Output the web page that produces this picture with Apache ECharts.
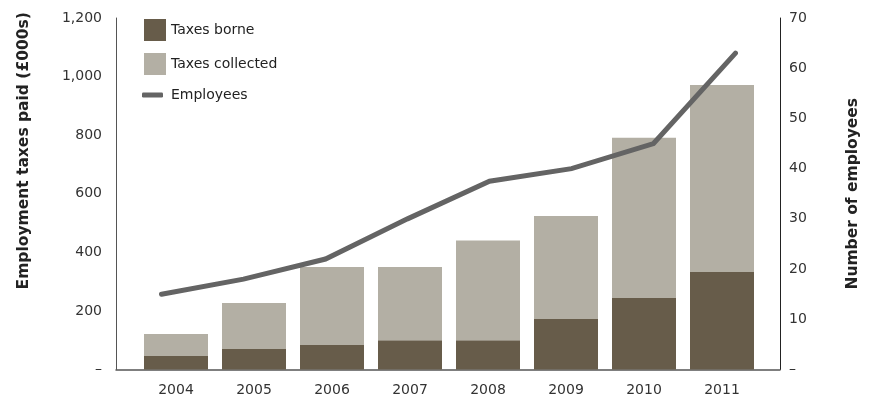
<!DOCTYPE html>
<html>
<head>
<meta charset="utf-8">
<script src="https://cdn.jsdelivr.net/npm/echarts@6/dist/echarts.min.js"></script>
<style>
  html, body { margin: 0; padding: 0; background: #fff; }
  #chart { width: 874px; height: 403px; }
</style>
</head>
<body>
<div id="chart"></div>
<script>
// Employment taxes (£000s) and headcount, 2004–2011
const years = ['2004', '2005', '2006', '2007', '2008', '2009', '2010', '2011'];
const taxesBorne = [46, 70, 84, 100, 100, 172, 244, 333];
const taxesCollected = [75, 157, 266, 250, 340, 352, 547, 638];
const employees = [15, 18, 22, 30, 37.5, 40, 45, 63];
const leftTicks = [0, 200, 400, 600, 800, 1000, 1200];
const rightTicks = [0, 10, 20, 30, 40, 50, 60, 70];

const FONT = '"DejaVu Sans", Verdana, sans-serif';
const BORNE = '#675c4a';
const COLLECTED = '#b3afa4';
const LINE = '#646464';

const dashZero = fmt => v => (v === 0 ? '\u2013' : fmt(v));
const TOP = 18, BOTTOM = 33.5;
const leftMax = leftTicks[leftTicks.length - 1];
const rightMax = rightTicks[rightTicks.length - 1];

const chart = echarts.init(document.getElementById('chart'), null, { renderer: 'canvas' });

chart.setOption({
  animation: false,
  backgroundColor: '#ffffff',
  textStyle: { fontFamily: FONT },
  grid: [
    // outer frame carrying both value axes
    { left: 116, right: 94, top: TOP, bottom: BOTTOM },
    // band holding the yearly bars
    { left: 137, right: 113, top: TOP, bottom: BOTTOM },
    // span of the employees line
    { left: 161.5, right: 138.5, top: TOP, bottom: BOTTOM }
  ],
  legend: [
    {
      data: ['Taxes borne', 'Taxes collected'],
      orient: 'vertical',
      left: 144,
      top: 19,
      padding: 0,
      itemWidth: 22,
      itemHeight: 22,
      itemGap: 12,
      icon: 'rect',
      textStyle: { fontFamily: FONT, fontSize: 14, color: '#222' },
      selectedMode: false
    },
    {
      data: ['Employees'],
      orient: 'vertical',
      left: 142,
      top: 88,
      padding: 0,
      itemWidth: 21,
      itemHeight: 5,
      icon: 'roundRect',
      itemStyle: { color: LINE },
      textStyle: { fontFamily: FONT, fontSize: 14, color: '#222', padding: [0, 0, 0, 3] },
      selectedMode: false
    }
  ],
  xAxis: [
    {
      // baseline across the full frame
      type: 'value',
      gridIndex: 0,
      min: 0,
      max: 1,
      splitLine: { show: false },
      axisTick: { show: false },
      axisLabel: { show: false },
      axisLine: { show: true, lineStyle: { color: '#555', width: 1.5 } }
    },
    {
      type: 'category',
      gridIndex: 1,
      data: years,
      axisLine: { show: false },
      axisTick: { show: false },
      axisLabel: { fontFamily: FONT, fontSize: 14, color: '#333', margin: 14 }
    },
    {
      type: 'category',
      gridIndex: 2,
      data: years,
      boundaryGap: false,
      show: false
    }
  ],
  yAxis: [
    {
      type: 'value',
      gridIndex: 0,
      min: leftTicks[0],
      max: leftMax,
      interval: 200,
      position: 'left',
      name: 'Employment taxes paid (£000s)',
      nameLocation: 'middle',
      nameRotate: 90,
      nameGap: 84,
      nameTextStyle: {
        fontFamily: FONT,
        fontSize: 15.5,
        fontWeight: 'bold',
        color: '#222',
        padding: [0, 0, 0, 86]
      },
      splitLine: { show: false },
      axisTick: { show: false },
      axisLine: { show: true, lineStyle: { color: '#555', width: 1 } },
      axisLabel: {
        formatter: dashZero(v => v.toLocaleString('en-GB')),
        fontFamily: FONT,
        fontSize: 14,
        color: '#333',
        margin: 14
      }
    },
    {
      type: 'value',
      gridIndex: 0,
      min: rightTicks[0],
      max: rightMax,
      interval: 10,
      position: 'right',
      name: 'Number of employees',
      nameLocation: 'middle',
      nameRotate: 90,
      nameGap: 65,
      nameTextStyle: {
        fontFamily: FONT,
        fontSize: 15.5,
        fontWeight: 'bold',
        color: '#222'
      },
      splitLine: { show: false },
      axisTick: { show: false },
      axisLine: { show: true, lineStyle: { color: '#222', width: 1 } },
      axisLabel: {
        formatter: dashZero(v => String(v)),
        fontFamily: FONT,
        fontSize: 14,
        color: '#333',
        margin: 9
      }
    },
    {
      // same scale as the left axis, for the bars
      type: 'value',
      gridIndex: 1,
      min: leftTicks[0],
      max: leftMax,
      show: false
    },
    {
      // same scale as the right axis, for the line
      type: 'value',
      gridIndex: 2,
      min: rightTicks[0],
      max: rightMax,
      show: false
    }
  ],
  series: [
    {
      name: 'Taxes borne',
      type: 'bar',
      stack: 'taxes',
      xAxisIndex: 1,
      yAxisIndex: 2,
      barWidth: 64,
      itemStyle: { color: BORNE },
      data: taxesBorne
    },
    {
      name: 'Taxes collected',
      type: 'bar',
      stack: 'taxes',
      xAxisIndex: 1,
      yAxisIndex: 2,
      barWidth: 64,
      itemStyle: { color: COLLECTED },
      data: taxesCollected
    },
    {
      name: 'Employees',
      type: 'line',
      xAxisIndex: 2,
      yAxisIndex: 3,
      symbol: 'none',
      lineStyle: { color: LINE, width: 5, cap: 'round', join: 'miter' },
      itemStyle: { color: LINE },
      data: employees,
      z: 5
    }
  ]
});
</script>
</body>
</html>
